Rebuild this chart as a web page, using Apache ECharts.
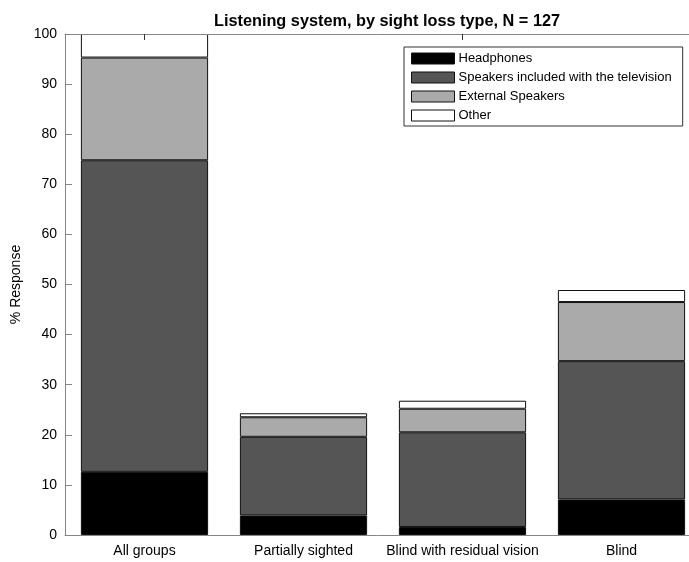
<!DOCTYPE html>
<html><head><meta charset="utf-8">
<script src="https://cdn.jsdelivr.net/npm/echarts@6/dist/echarts.min.js"></script>
<style>html,body{margin:0;padding:0;background:#fff}#c{width:689px;height:562px}</style>
</head><body><div id="c"></div>
<script>
const categories = ['All groups', 'Partially sighted', 'Blind with residual vision', 'Blind'];
const headphones = [12.6, 3.9, 1.6, 7.1];
const tvSpeakers = [62.2, 15.7, 18.9, 27.6];
const externalSpeakers = [20.5, 3.9, 4.7, 11.8];
const other = [4.7, 0.8, 1.6, 2.4];
const yTicks = [0, 10, 20, 30, 40, 50, 60, 70, 80, 90, 100];

const font = 'Liberation Sans, Arial, Helvetica, sans-serif';
const axisColor = '#858585';
function bar(name, data, color) {
  return {
    name: name, type: 'bar', stack: 'all', data: data, barWidth: '80%',
    itemStyle: { color: color, borderColor: '#111', borderWidth: 1 },
    emphasis: { disabled: true }, animation: false, z: 2
  };
}
const chart = echarts.init(document.getElementById('c'));
chart.setOption({
  animation: false,
  title: {
    text: 'Listening system, by sight loss type, N = 127',
    left: 382, textAlign: 'center', top: 9,
    textStyle: { fontFamily: font, fontSize: 16.3, fontWeight: 'bold', color: '#000' }
  },
  grid: { left: 65, top: 34, width: 636, height: 501, outerBoundsMode: 'none', containLabel: false },
  legend: {
    orient: 'vertical', left: 404, top: 47,
    itemWidth: 43, itemHeight: 11, itemGap: 6,
    padding: [5, 11, 4, 7],
    borderColor: '#333', borderWidth: 1, backgroundColor: '#fff',
    icon: 'rect', z: 10,
    itemStyle: { borderColor: '#111', borderWidth: 1 },
    textStyle: { fontFamily: font, fontSize: 13, color: '#000', padding: [0, 0, 0, -1] },
    data: ['Headphones', 'Speakers included with the television', 'External Speakers', 'Other']
  },
  xAxis: [{
    type: 'category', data: categories, position: 'bottom', z: 5,
    axisLine: { lineStyle: { color: axisColor } },
    axisTick: { inside: true, alignWithLabel: true, length: 6, lineStyle: { color: axisColor } },
    axisLabel: { fontFamily: font, fontSize: 14, color: '#000', margin: 9, interval: 0, hideOverlap: false }
  }, {
    type: 'category', data: categories, position: 'top', z: 5,
    axisLine: { show: true, lineStyle: { color: axisColor } },
    axisTick: { show: true, inside: true, alignWithLabel: true, length: 6, lineStyle: { color: '#333' } },
    axisLabel: { show: false }
  }],
  yAxis: {
    type: 'value', min: yTicks[0], max: yTicks[yTicks.length - 1], interval: 10, z: 5,
    name: '% Response', nameLocation: 'middle', nameGap: 39,
    nameTextStyle: { fontFamily: font, fontSize: 14, color: '#000' },
    axisLine: { show: true, lineStyle: { color: axisColor } },
    axisTick: { show: true, inside: true, length: 7, lineStyle: { color: axisColor } },
    splitLine: { show: false },
    axisLabel: { fontFamily: font, fontSize: 14, color: '#000', margin: 8 }
  },
  series: [
    bar('Headphones', headphones, '#000000'),
    bar('Speakers included with the television', tvSpeakers, '#555555'),
    bar('External Speakers', externalSpeakers, '#aaaaaa'),
    bar('Other', other, '#ffffff')
  ]
});
</script></body></html>
